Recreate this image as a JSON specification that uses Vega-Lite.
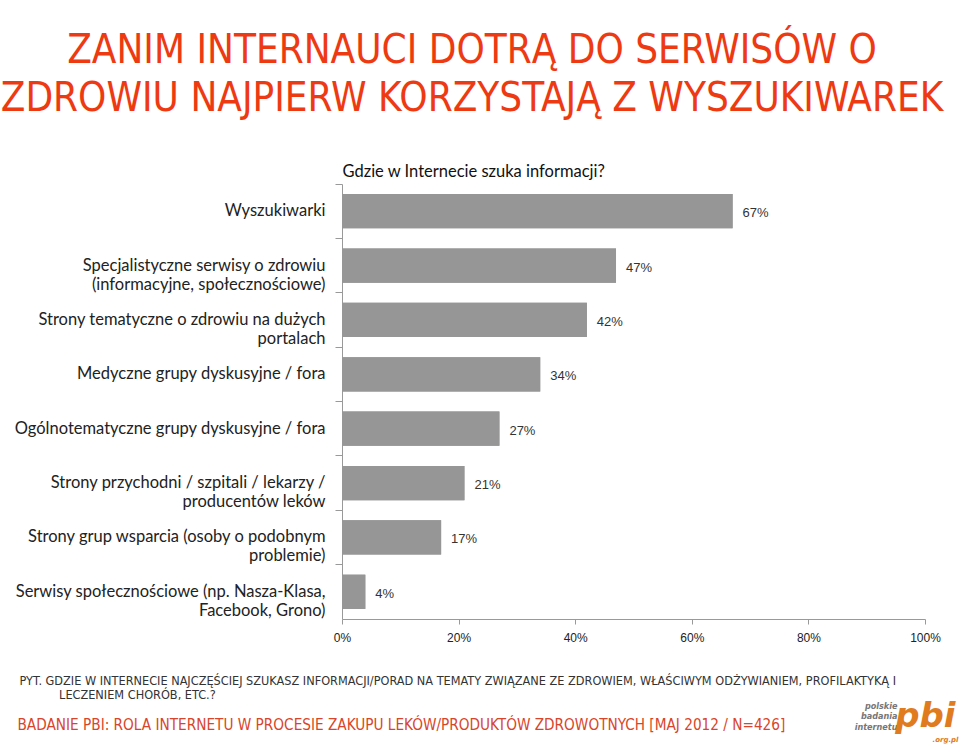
{
  "$schema": "https://vega.github.io/schema/vega-lite/v6.json",
  "width": 583,
  "height": 435,
  "autosize": {"type": "none"},
  "padding": {"left": 342, "top": 184, "right": 34, "bottom": 127},
  "background": "white",
  "config": {"view": {"stroke": null}, "axis": {"grid": false}},
  "title": {
    "text": ["ZANIM INTERNAUCI DOTRĄ DO SERWISÓW O", "ZDROWIU NAJPIERW KORZYSTAJĄ Z WYSZUKIWAREK"],
    "anchor": "start",
    "frame": "group",
    "align": "center",
    "dx": 130,
    "baseline": "alphabetic",
    "offset": 12,
    "font": "DejaVu Sans Condensed",
    "fontSize": 40,
    "fontWeight": "normal",
    "color": "#EE3A12",
    "lineHeight": 48
  },
  "data": {
    "values": [
      {"cat": "Wyszukiwarki", "share": 0.67},
      {"cat": "Specjalistyczne serwisy o zdrowiu|(informacyjne, społecznościowe)", "share": 0.47},
      {"cat": "Strony tematyczne o zdrowiu na dużych|portalach", "share": 0.42},
      {"cat": "Medyczne grupy dyskusyjne / fora", "share": 0.34},
      {"cat": "Ogólnotematyczne grupy dyskusyjne / fora", "share": 0.27},
      {"cat": "Strony przychodni / szpitali / lekarzy /|producentów leków", "share": 0.21},
      {"cat": "Strony grup wsparcia (osoby o podobnym|problemie)", "share": 0.17},
      {"cat": "Serwisy społecznościowe (np. Nasza-Klasa,|Facebook, Grono)", "share": 0.04}
    ]
  },
  "resolve": {"axis": {"x": "independent", "y": "independent"}},
  "layer": [
    {
      "mark": {"type": "bar", "color": "#969696", "height": {"band": 0.63}},
      "encoding": {
        "x": {
          "field": "share",
          "type": "quantitative",
          "scale": {"domain": [0, 1], "nice": false, "zero": true},
          "axis": {
            "orient": "bottom",
            "values": [0, 0.2, 0.4, 0.6, 0.8, 1],
            "format": ".0%",
            "labelFont": "Liberation Sans",
            "labelFontSize": 12,
            "labelColor": "#222",
            "labelPadding": 8,
            "ticks": true,
            "tickSize": 5,
            "tickColor": "#999",
            "domainColor": "#999",
            "labelFlush": false,
            "title": ["PYT. GDZIE W INTERNECIE NAJCZĘŚCIEJ SZUKASZ INFORMACJI/PORAD NA TEMATY ZWIĄZANE ZE ZDROWIEM, WŁAŚCIWYM ODŻYWIANIEM, PROFILAKTYKĄ I", "\u200b\u00a0\u00a0\u00a0\u00a0\u00a0\u00a0\u00a0\u00a0\u00a0\u00a0\u00a0LECZENIEM CHORÓB, ETC.?"],
            "titleX": -323,
            "titleY": 65,
            "titleAlign": "left",
            "titleBaseline": "alphabetic",
            "titleAngle": 0,
            "titleFont": "DejaVu Sans Condensed",
            "titleFontSize": 12.6,
            "titleFontWeight": "normal",
            "titleColor": "#333",
            "titleLineHeight": 14
          }
        },
        "y": {
          "field": "cat",
          "type": "nominal",
          "sort": "-x",
          "scale": {"paddingInner": 0, "paddingOuter": 0},
          "axis": {
            "orient": "left",
            "labelExpr": "split(datum.label, '|')",
            "labelFont": "Lato",
            "labelFontSize": 16.5,
            "labelColor": "#222",
            "labelLineHeight": 19,
            "labelLimit": 500,
            "labelPadding": 17,
            "ticks": false,
            "domain": true,
            "domainColor": "#999",
            "title": ".org.pl",
            "titleX": 590,
            "titleY": 557,
            "titleAngle": 0,
            "titleAlign": "left",
            "titleBaseline": "alphabetic",
            "titleFont": "DejaVu Sans",
            "titleFontSize": 7,
            "titleFontWeight": "bold",
            "titleFontStyle": "italic",
            "titleColor": "#E07B20"
          }
        }
      }
    },
    {
      "mark": {"type": "text", "align": "left", "dx": 10, "dy": 2, "font": "Liberation Sans", "fontSize": 13, "color": "#333"},
      "encoding": {
        "x": {
          "field": "share",
          "type": "quantitative",
          "axis": {
            "orient": "bottom",
            "labels": false,
            "ticks": false,
            "domain": false,
            "title": "BADANIE PBI: ROLA INTERNETU W PROCESIE ZAKUPU LEKÓW/PRODUKTÓW ZDROWOTNYCH [MAJ 2012 / N=426]",
            "titleX": -325,
            "titleY": 110,
            "titleAlign": "left",
            "titleBaseline": "alphabetic",
            "titleFont": "DejaVu Sans Condensed",
            "titleFontSize": 15.2,
            "titleFontWeight": "normal",
            "titleColor": "#D9452A"
          }
        },
        "y": {
          "field": "cat",
          "type": "nominal",
          "sort": "-x",
          "axis": {
            "orient": "left",
            "labels": false,
            "ticks": true,
            "bandPosition": 0,
            "tickSize": 7,
            "tickColor": "#999",
            "domain": false,
            "title": "Gdzie  w Internecie szuka informacji?",
            "titleX": 0,
            "titleY": -8,
            "titleAngle": 0,
            "titleAlign": "left",
            "titleBaseline": "alphabetic",
            "titleFont": "Lato",
            "titleFontSize": 16.5,
            "titleFontWeight": "normal",
            "titleColor": "#111"
          }
        },
        "text": {"field": "share", "type": "quantitative", "format": ".0%"}
      }
    },
    {
      "mark": {"type": "bar", "color": "#969696", "height": {"band": 0.63}},
      "encoding": {
        "x": {
          "field": "share",
          "type": "quantitative",
          "axis": {
            "orient": "top",
            "labels": false,
            "ticks": false,
            "domain": false,
            "title": ["polskie", "badania", "internetu"],
            "titleX": 555,
            "titleY": 524,
            "titleAlign": "right",
            "titleBaseline": "alphabetic",
            "titleAngle": 0,
            "titleFont": "DejaVu Sans Condensed",
            "titleFontSize": 9,
            "titleFontWeight": "bold",
            "titleFontStyle": "italic",
            "titleColor": "#777",
            "titleLineHeight": 10.5
          }
        },
        "y": {
          "field": "cat",
          "type": "nominal",
          "sort": "-x",
          "axis": {
            "orient": "right",
            "labels": false,
            "ticks": false,
            "domain": false,
            "title": "pbi",
            "titleX": 30,
            "titleY": 542,
            "titleAngle": 0,
            "titleAlign": "right",
            "titleBaseline": "alphabetic",
            "titleFont": "DejaVu Sans",
            "titleFontSize": 34,
            "titleFontWeight": "bold",
            "titleFontStyle": "italic",
            "titleColor": "#E07B20"
          }
        }
      }
    }
  ]
}
